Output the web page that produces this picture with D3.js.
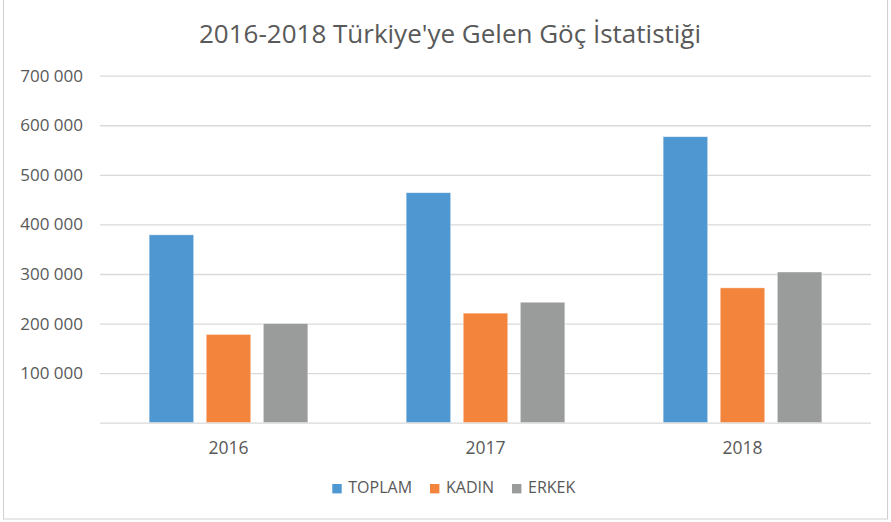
<!DOCTYPE html>
<html>
<head>
<meta charset="utf-8">
<script src="https://cdn.jsdelivr.net/npm/d3@7"></script>
<style>
  html, body { margin: 0; padding: 0; background: #fff; }
  svg { display: block; font-family: "Open Sans", sans-serif; }
</style>
</head>
<body>
<svg id="chart" width="891" height="522"></svg>
<script>
// values
const years = ['2016', '2017', '2018'];
const seriesNames = ['TOPLAM', 'KADIN', 'ERKEK'];
const toplam = [379000, 464000, 577000];
const kadin = [178000, 221000, 272000];
const erkek = [200000, 243000, 304000];
const yTicks = [100000, 200000, 300000, 400000, 500000, 600000, 700000];
const colors = ['#4f97d1', '#f2843c', '#9a9c9c'];

const rows = years.map((y, i) => ({ year: y, values: [toplam[i], kadin[i], erkek[i]] }));

const svg = d3.select('#chart');
const plot = { left: 100, right: 871, top: 75.7, bottom: 422.7 };
const textColor = '#595959';

// chart area frame
svg.append('rect')
  .attr('x', 3.5).attr('y', -2).attr('width', 884).attr('height', 521)
  .attr('fill', '#fff').attr('stroke', '#d0d0d0').attr('stroke-width', 1);

const y = d3.scaleLinear().domain([0, 700000]).range([plot.bottom, plot.top]);
const x0 = d3.scaleBand().domain(years).range([plot.left, plot.right])
  .paddingInner(0.3825).paddingOuter(0.19125);
const x1 = d3.scaleBand().domain(seriesNames).range([0, x0.bandwidth()])
  .paddingInner(0.22).paddingOuter(0);

const fmt = v => d3.format(',')(v).replace(/,/g, ' ');

// gridlines + y labels
const yAxis = d3.axisLeft(y).tickValues(yTicks).tickSize(-(plot.right - plot.left)).tickFormat(fmt).tickPadding(17);
const gy = svg.append('g').attr('transform', `translate(${plot.left},0)`).call(yAxis);
gy.select('.domain').remove();
gy.selectAll('.tick line').attr('stroke', '#d9d9d9').attr('stroke-width', 1.3);
gy.selectAll('.tick text').attr('fill', textColor).attr('font-size', 17).attr('font-family', '"Open Sans", sans-serif');

// bars
const groups = svg.append('g').selectAll('g').data(rows).join('g')
  .attr('transform', d => `translate(${x0(d.year)},0)`);
groups.selectAll('rect')
  .data(d => d.values.map((v, i) => ({ key: seriesNames[i], v, i })))
  .join('rect')
  .attr('x', d => x1(d.key))
  .attr('width', x1.bandwidth())
  .attr('y', d => y(d.v))
  .attr('height', d => y(0) - y(d.v))
  .attr('fill', d => colors[d.i])
  .attr('stroke', '#fff').attr('stroke-opacity', 0.5).attr('stroke-width', 0.8);

// category axis
const xAxis = d3.axisBottom(x0).tickSize(0).tickPadding(0);
const gx = svg.append('g').attr('transform', `translate(0,${plot.bottom})`).call(xAxis);
gx.select('.domain').attr('d', `M${plot.left},0.5H${plot.right}`).attr('stroke', '#d9d9d9').attr('stroke-width', 1.3);
gx.selectAll('.tick text').attr('dy', null).attr('y', 31.3)
  .attr('fill', textColor).attr('font-size', 17.5).attr('font-family', '"Open Sans", sans-serif');

// title
svg.append('text')
  .attr('x', 450).attr('y', 42.5)
  .attr('text-anchor', 'middle')
  .attr('fill', textColor)
  .attr('font-size', 26)
  .text("2016-2018 Türkiye'ye Gelen Göç İstatistiği");

// legend
const legendX = [332.3, 430, 512];
const legend = svg.append('g').selectAll('g').data(seriesNames).join('g')
  .attr('transform', (d, i) => `translate(${legendX[i]},493.3)`);
legend.append('rect').attr('x', 0).attr('y', -9.3).attr('width', 9.4).attr('height', 9.4)
  .attr('fill', (d, i) => colors[i]);
legend.append('text').attr('x', 16).attr('y', 0)
  .attr('fill', textColor).attr('font-size', 16)
  .text(d => d);
</script>
</body>
</html>
